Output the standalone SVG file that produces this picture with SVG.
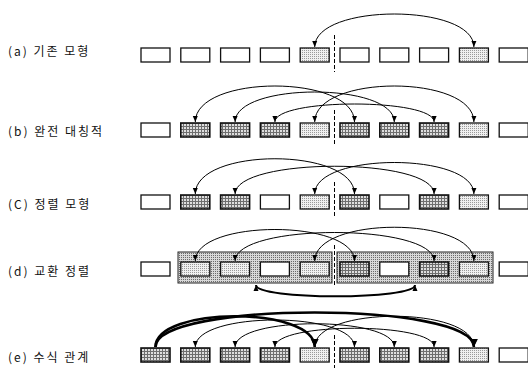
<svg xmlns="http://www.w3.org/2000/svg" width="528" height="368" viewBox="0 0 528 368">
<defs>
<pattern id="dk" width="3" height="3" patternUnits="userSpaceOnUse"><rect width="3" height="3" fill="#dedede"/><path d="M0,0.5H3M0.5,0V3" stroke="#6e6e6e" stroke-width="1"/></pattern>
<pattern id="lt" width="2" height="2" patternUnits="userSpaceOnUse"><rect width="2" height="2" fill="#f0f0f0"/><rect x="0" y="0" width="1" height="1" fill="#9a9a9a"/></pattern>
<pattern id="md" width="2" height="2" patternUnits="userSpaceOnUse"><rect width="2" height="2" fill="#d8d8d8"/><rect x="1" y="1" width="1" height="1" fill="#6a6a6a"/></pattern>
<marker id="ah" markerUnits="userSpaceOnUse" markerWidth="7" markerHeight="6" refX="6" refY="3" orient="auto-start-reverse"><path d="M0,0.5 L6,3 L0,5.5 z" fill="#000"/></marker>
<marker id="ahb" markerUnits="userSpaceOnUse" markerWidth="10" markerHeight="9" refX="8" refY="4.5" orient="auto-start-reverse"><path d="M0,0.5 L8,4.5 L0,8.5 z" fill="#000"/></marker>
</defs>
<style>
.lbl{font-family:"Noto Sans CJK KR","Noto Sans",sans-serif;font-size:12px;letter-spacing:2px;fill:#111}
.b{stroke:#111;stroke-width:1.3;fill:#fff}
.b.lt{fill:url(#lt)}
.b.dk{fill:url(#dk);stroke-width:1.6}
.grp{fill:url(#md);stroke:#222;stroke-width:1}
.arc{fill:none;stroke:#000;stroke-width:1;marker-start:url(#ah);marker-end:url(#ah)}
.thk{fill:none;stroke:#000;stroke-width:2.6;marker-end:url(#ahb)}
.bot{fill:none;stroke:#000;stroke-width:2;marker-start:url(#ah);marker-end:url(#ah)}
.dash{stroke:#000;stroke-width:1;stroke-dasharray:4 2}
</style>

<g id="labels">
<text class="lbl" x="8" y="56">(a) 기존 모형</text>
<text class="lbl" x="8" y="136">(b) 완전 대칭적</text>
<text class="lbl" x="8" y="209">(C) 정렬 모형</text>
<text class="lbl" x="8" y="276">(d) 교환 정렬</text>
<text class="lbl" x="8" y="362">(e) 수식 관계</text>
</g>

<g id="row-a">
<g id="a0"><rect class="b" x="141" y="48" width="29" height="14"/></g>
<g id="a1"><rect class="b" x="180.8" y="48" width="29" height="14"/></g>
<g id="a2"><rect class="b" x="220.6" y="48" width="29" height="14"/></g>
<g id="a3"><rect class="b" x="260.4" y="48" width="29" height="14"/></g>
<g id="a4"><rect class="b lt" x="300.2" y="48" width="29" height="14"/></g>
<g id="a5"><rect class="b" x="340" y="48" width="29" height="14"/></g>
<g id="a6"><rect class="b" x="379.8" y="48" width="29" height="14"/></g>
<g id="a7"><rect class="b" x="419.6" y="48" width="29" height="14"/></g>
<g id="a8"><rect class="b lt" x="459.4" y="48" width="29" height="14"/></g>
<g id="a9"><rect class="b" x="499.2" y="48" width="29" height="14"/></g>
</g>

<g id="row-b">
<g id="b0"><rect class="b" x="141" y="123" width="29" height="14"/></g>
<g id="b1"><rect class="b dk" x="180.8" y="123" width="29" height="14"/></g>
<g id="b2"><rect class="b dk" x="220.6" y="123" width="29" height="14"/></g>
<g id="b3"><rect class="b dk" x="260.4" y="123" width="29" height="14"/></g>
<g id="b4"><rect class="b lt" x="300.2" y="123" width="29" height="14"/></g>
<g id="b5"><rect class="b dk" x="340" y="123" width="29" height="14"/></g>
<g id="b6"><rect class="b dk" x="379.8" y="123" width="29" height="14"/></g>
<g id="b7"><rect class="b dk" x="419.6" y="123" width="29" height="14"/></g>
<g id="b8"><rect class="b lt" x="459.4" y="123" width="29" height="14"/></g>
<g id="b9"><rect class="b" x="499.2" y="123" width="29" height="14"/></g>
</g>

<g id="row-c">
<g id="c0"><rect class="b" x="141" y="195" width="29" height="14"/></g>
<g id="c1"><rect class="b dk" x="180.8" y="195" width="29" height="14"/></g>
<g id="c2"><rect class="b dk" x="220.6" y="195" width="29" height="14"/></g>
<g id="c3"><rect class="b" x="260.4" y="195" width="29" height="14"/></g>
<g id="c4"><rect class="b lt" x="300.2" y="195" width="29" height="14"/></g>
<g id="c5"><rect class="b dk" x="340" y="195" width="29" height="14"/></g>
<g id="c6"><rect class="b" x="379.8" y="195" width="29" height="14"/></g>
<g id="c7"><rect class="b dk" x="419.6" y="195" width="29" height="14"/></g>
<g id="c8"><rect class="b lt" x="459.4" y="195" width="29" height="14"/></g>
<g id="c9"><rect class="b" x="499.2" y="195" width="29" height="14"/></g>
</g>

<g id="row-d">
<g id="dg1"><rect class="grp" x="178" y="252" width="154" height="31"/></g>
<g id="dg2"><rect class="grp" x="337" y="252" width="156" height="31"/></g>
<g id="d0"><rect class="b" x="141" y="262" width="29" height="14"/></g>
<g id="d1"><rect class="b lt" x="180.8" y="262" width="29" height="14"/></g>
<g id="d2"><rect class="b lt" x="220.6" y="262" width="29" height="14"/></g>
<g id="d3"><rect class="b" x="260.4" y="262" width="29" height="14"/></g>
<g id="d4"><rect class="b lt" x="300.2" y="262" width="29" height="14"/></g>
<g id="d5"><rect class="b dk" x="340" y="262" width="29" height="14"/></g>
<g id="d6"><rect class="b" x="379.8" y="262" width="29" height="14"/></g>
<g id="d7"><rect class="b dk" x="419.6" y="262" width="29" height="14"/></g>
<g id="d8"><rect class="b lt" x="459.4" y="262" width="29" height="14"/></g>
<g id="d9"><rect class="b" x="499.2" y="262" width="29" height="14"/></g>
</g>

<g id="row-e">
<g id="e0"><rect class="b dk" x="141" y="348" width="29" height="14"/></g>
<g id="e1"><rect class="b dk" x="180.8" y="348" width="29" height="14"/></g>
<g id="e2"><rect class="b dk" x="220.6" y="348" width="29" height="14"/></g>
<g id="e3"><rect class="b dk" x="260.4" y="348" width="29" height="14"/></g>
<g id="e4"><rect class="b lt" x="300.2" y="348" width="29" height="14"/></g>
<g id="e5"><rect class="b dk" x="340" y="348" width="29" height="14"/></g>
<g id="e6"><rect class="b dk" x="379.8" y="348" width="29" height="14"/></g>
<g id="e7"><rect class="b dk" x="419.6" y="348" width="29" height="14"/></g>
<g id="e8"><rect class="b lt" x="459.4" y="348" width="29" height="14"/></g>
<g id="e9"><rect class="b" x="499.2" y="348" width="29" height="14"/></g>
</g>

<g id="dividers">
<line class="dash" x1="334.5" y1="35" x2="334.5" y2="72"/>
<line class="dash" x1="334.5" y1="110" x2="334.5" y2="145"/>
<line class="dash" x1="334.5" y1="182" x2="334.5" y2="217"/>
<line class="dash" x1="334.5" y1="245" x2="334.5" y2="285"/>
<line class="dash" x1="334.5" y1="335" x2="334.5" y2="368"/>
</g>

<g id="connectors">
<path class="arc" d="M314.7,47 C314.7,3 473.9,3 473.9,47"/>

<path class="arc" d="M195.3,122 C195.3,74 354.5,74 354.5,122"/>
<path class="arc" d="M235.1,122 C235.1,82 394.3,82 394.3,122"/>
<path class="arc" d="M274.9,122 C274.9,98 434.1,98 434.1,122"/>
<path class="arc" d="M314.7,122 C314.7,74 473.9,74 473.9,122"/>

<path class="arc" d="M195.3,194 C195.3,147 354.5,147 354.5,194"/>
<path class="arc" d="M235.1,194 C235.1,157 434.1,157 434.1,194"/>
<path class="arc" d="M314.7,194 C314.7,152 473.9,152 473.9,194"/>

<path class="arc" d="M195.3,261 C195.3,219 354.5,219 354.5,261"/>
<path class="arc" d="M235.1,261 C235.1,223 434.1,223 434.1,261"/>
<path class="arc" d="M314.7,261 C314.7,216 473.9,216 473.9,261"/>
<path class="bot" d="M256,285 C256,300 415,300 415,285"/>

<path class="arc" d="M195.3,347 C195.3,311 354.5,311 354.5,347"/>
<path class="arc" d="M235.1,347 C235.1,316 394.3,316 394.3,347"/>
<path class="arc" d="M274.9,347 C274.9,322 434.1,322 434.1,347"/>
<path class="arc" d="M314.7,347 C314.7,306 473.9,306 473.9,347"/>
<path class="thk" d="M155.5,347 C155.5,301 473.9,301 473.9,347"/>
<path class="thk" d="M155.5,347 C155.5,306 314.7,306 314.7,347"/>
</g>
</svg>
